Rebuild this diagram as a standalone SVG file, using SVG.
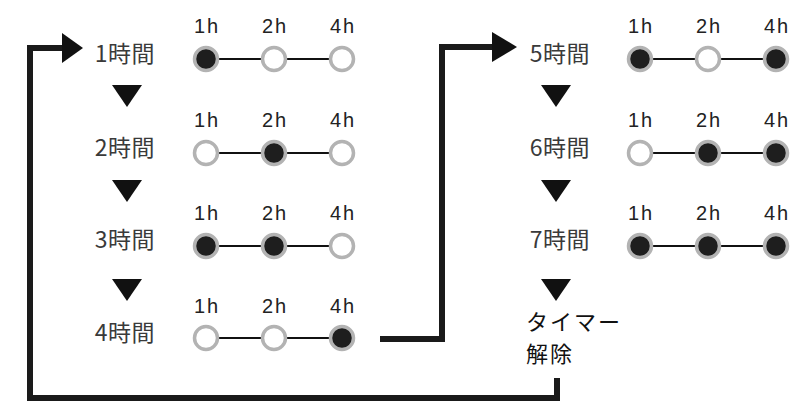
<svg xmlns="http://www.w3.org/2000/svg" width="791" height="402" viewBox="0 0 791 402">
<style>
.t{font-family:"Noto Sans CJK JP","Liberation Sans",sans-serif;font-size:23px;fill:#3a3a3a;text-anchor:end;letter-spacing:0.5px}
.h{font-family:"Liberation Sans","Noto Sans",sans-serif;font-size:20px;fill:#222;text-anchor:middle;letter-spacing:2px}
.on{fill:#1e1e1e;stroke:#b3b3b3;stroke-width:3.5}
.off{fill:#fff;stroke:#b3b3b3;stroke-width:3.5}
.ln{stroke:#111;stroke-width:2}
.tri{fill:#111}
.cn{fill:none;stroke:#1a1a1a;stroke-width:6}
.tm{font-family:"Noto Sans CJK JP",sans-serif;font-size:22px;fill:#111;letter-spacing:2px}
</style>
<defs>
<g id="hl"><text class="h" x="1" y="0">1h</text><text class="h" x="69" y="0">2h</text><text class="h" x="137" y="0">4h</text></g>
<g id="lines"><line class="ln" x1="0" y1="0" x2="68" y2="0"/><line class="ln" x1="68" y1="0" x2="136" y2="0"/></g>
</defs>
<g id="connectors">
<polyline class="cn" points="557,378 557,398 30,398 30,48 64,48"/>
<polygon class="tri" points="62,33 83,48 62,63"/>
<polyline class="cn" points="380,339 442,339 442,47 495,47"/>
<polygon class="tri" points="492,32 517,47 492,62"/>
</g>
<g id="row1">
<text class="t" x="155" y="62">1時間</text>
<use href="#hl" x="206" y="33"/>
<use href="#lines" x="206" y="59"/>
<circle class="on" cx="206" cy="59" r="11.5"/><circle class="off" cx="274" cy="59" r="11.5"/><circle class="off" cx="342" cy="59" r="11.5"/>
</g>
<polygon class="tri" points="112,85 142,85 127,107"/>
<g id="row2">
<text class="t" x="155" y="156">2時間</text>
<use href="#hl" x="206" y="127"/>
<use href="#lines" x="206" y="153"/>
<circle class="off" cx="206" cy="153" r="11.5"/><circle class="on" cx="274" cy="153" r="11.5"/><circle class="off" cx="342" cy="153" r="11.5"/>
</g>
<polygon class="tri" points="112,180 142,180 127,202"/>
<g id="row3">
<text class="t" x="155" y="248">3時間</text>
<use href="#hl" x="206" y="220"/>
<use href="#lines" x="206" y="246"/>
<circle class="on" cx="206" cy="246" r="11.5"/><circle class="on" cx="274" cy="246" r="11.5"/><circle class="off" cx="342" cy="246" r="11.5"/>
</g>
<polygon class="tri" points="112,279 142,279 127,301"/>
<g id="row4">
<text class="t" x="155" y="341">4時間</text>
<use href="#hl" x="206" y="313"/>
<use href="#lines" x="206" y="338"/>
<circle class="off" cx="206" cy="338" r="11.5"/><circle class="off" cx="274" cy="338" r="11.5"/><circle class="on" cx="342" cy="338" r="11.5"/>
</g>
<g id="row5">
<text class="t" x="590" y="62">5時間</text>
<use href="#hl" x="640" y="33"/>
<use href="#lines" x="640" y="59"/>
<circle class="on" cx="640" cy="59" r="11.5"/><circle class="off" cx="708" cy="59" r="11.5"/><circle class="on" cx="776" cy="59" r="11.5"/>
</g>
<polygon class="tri" points="541,85 571,85 556,107"/>
<g id="row6">
<text class="t" x="590" y="156">6時間</text>
<use href="#hl" x="640" y="127"/>
<use href="#lines" x="640" y="153"/>
<circle class="off" cx="640" cy="153" r="11.5"/><circle class="on" cx="708" cy="153" r="11.5"/><circle class="on" cx="776" cy="153" r="11.5"/>
</g>
<polygon class="tri" points="541,180 571,180 556,202"/>
<g id="row7">
<text class="t" x="590" y="248">7時間</text>
<use href="#hl" x="640" y="220"/>
<use href="#lines" x="640" y="246"/>
<circle class="on" cx="640" cy="246" r="11.5"/><circle class="on" cx="708" cy="246" r="11.5"/><circle class="on" cx="776" cy="246" r="11.5"/>
</g>
<polygon class="tri" points="541,279 571,279 556,301"/>
<g id="release">
<text class="tm" x="526" y="330">タイマー</text>
<text class="tm" x="526" y="362">解除</text>
</g>
</svg>
